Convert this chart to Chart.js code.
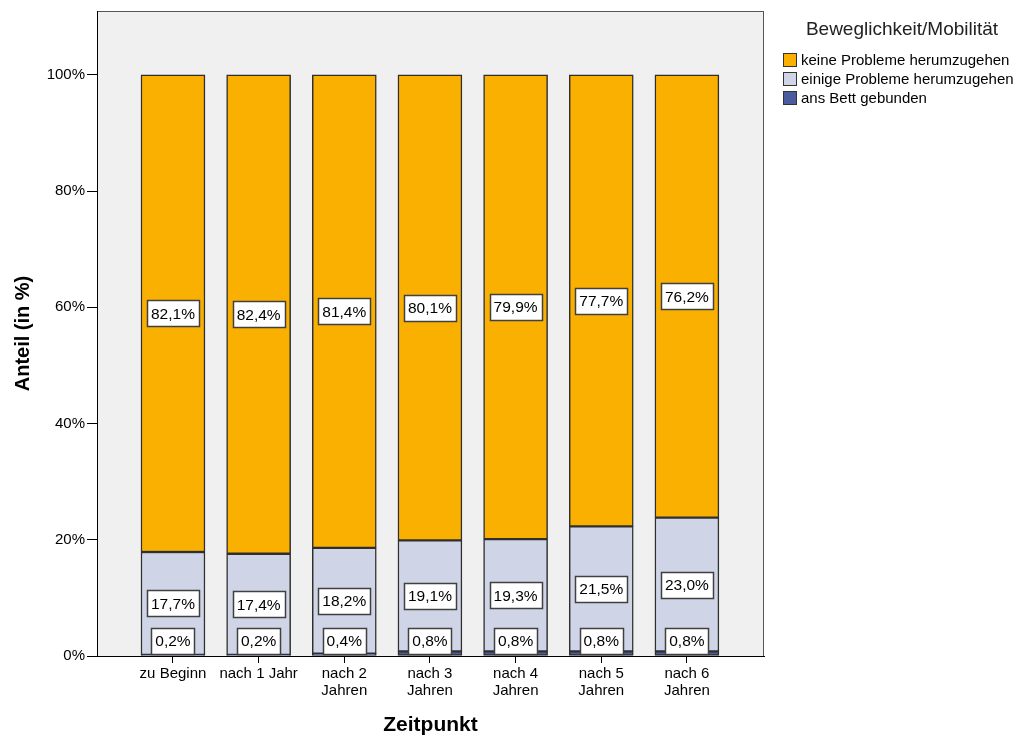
<!DOCTYPE html>
<html>
<head>
<meta charset="utf-8">
<title>Beweglichkeit/Mobilität</title>
<script src="https://cdn.jsdelivr.net/npm/chart.js@4.4.1/dist/chart.umd.min.js"></script>
<style>
  html, body { margin: 0; padding: 0; background: #fff; }
  #wrap { width: 1023px; height: 738px; }
</style>
</head>
<body>
<div id="wrap"><canvas id="mobChart" width="1023" height="738"></canvas></div>
<script>
// Zeitpunkte und Anteile (in %)
const zeitpunkte = ['zu Beginn', 'nach 1 Jahr', ['nach 2', 'Jahren'], ['nach 3', 'Jahren'],
                    ['nach 4', 'Jahren'], ['nach 5', 'Jahren'], ['nach 6', 'Jahren']];
const ansBett = [0.2, 0.2, 0.4, 0.8, 0.8, 0.8, 0.8];
const einigeProbleme = [17.7, 17.4, 18.2, 19.1, 19.3, 21.5, 23.0];
const keineProbleme = [82.1, 82.4, 81.4, 80.1, 79.9, 77.7, 76.2];
const yTicks = [0, 20, 40, 60, 80, 100];
const legendTitle = 'Beweglichkeit/Mobilität';

const FONT = '"Liberation Sans", Arial, sans-serif';

function pct(v){
  return v.toFixed(1).replace('.', ',') + '%';
}
function toPoints(arr){
  return arr.map((v, i) => ({ x: i, y: v }));
}

// grey plot background with a frame
const plotFrame = {
  id: 'plotFrame',
  beforeDraw(chart){
    const a = chart.chartArea, c = chart.ctx;
    c.save();
    c.fillStyle = '#f0f0f0';
    c.fillRect(a.left, a.top, a.right - a.left, a.bottom - a.top);
    c.strokeStyle = '#555';
    c.lineWidth = 1;
    c.strokeRect(a.left + 0.5, a.top + 0.5, a.right - a.left - 1, a.bottom - a.top);
    c.restore();
  }
};

// boxed value labels in the middle of each segment
const boxLabels = {
  id: 'boxLabels',
  afterDatasetsDraw(chart){
    const c = chart.ctx;
    const base = chart.scales.y.getPixelForValue(0);
    c.save();
    c.font = '15.5px ' + FONT;
    c.textAlign = 'center';
    c.textBaseline = 'middle';
    chart.data.datasets.forEach((ds, di) => {
      const meta = chart.getDatasetMeta(di);
      meta.data.forEach((bar, i) => {
        const txt = pct(ds.data[i].y);
        const w = Math.round(c.measureText(txt).width + 8);
        const h = 26;
        let cy = (bar.y + bar.base) / 2;
        cy = Math.min(cy, base - h / 2 - 2);
        const x0 = Math.round(bar.x - w / 2) + 0.5, y0 = Math.round(cy - h / 2) + 0.5;
        c.fillStyle = '#fff';
        c.fillRect(x0, y0, w, h);
        c.strokeStyle = '#404040';
        c.lineWidth = 1.5;
        c.strokeRect(x0, y0, w, h);
        c.fillStyle = '#000';
        c.fillText(txt, bar.x, cy + 1);
      });
    });
    c.restore();
  }
};

// legend on the right
const sideLegend = {
  id: 'sideLegend',
  afterDraw(chart){
    const c = chart.ctx;
    c.save();
    c.fillStyle = '#222';
    c.font = '19px ' + FONT;
    c.textAlign = 'center';
    c.textBaseline = 'middle';
    c.fillText(legendTitle, 902, 30);
    c.font = '15px ' + FONT;
    c.textAlign = 'left';
    const items = chart.data.datasets.slice().reverse();
    items.forEach((ds, k) => {
      const cy = 60 + k * 19;
      c.fillStyle = ds.backgroundColor;
      c.fillRect(783, cy - 7, 14, 14);
      c.strokeStyle = '#333';
      c.lineWidth = 1;
      c.strokeRect(783.5, cy - 6.5, 13, 13);
      c.fillStyle = '#000';
      c.fillText(ds.label, 801, cy + 1);
    });
    c.restore();
  }
};

const barStyle = { borderColor: '#2f2f2f', borderWidth: 1.5, barThickness: 64, borderSkipped: false };

new Chart(document.getElementById('mobChart'), {
  type: 'bar',
  data: {
    datasets: [
      Object.assign({ label: 'ans Bett gebunden', data: toPoints(ansBett), backgroundColor: '#4b5c9e' }, barStyle),
      Object.assign({ label: 'einige Probleme herumzugehen', data: toPoints(einigeProbleme), backgroundColor: '#cfd5e6' }, barStyle),
      Object.assign({ label: 'keine Probleme herumzugehen', data: toPoints(keineProbleme), backgroundColor: '#f9b000' }, barStyle)
    ]
  },
  options: {
    responsive: false,
    devicePixelRatio: 1,
    animation: false,
    layout: { padding: { left: 0, top: 10, right: 259, bottom: 0 } },
    plugins: { legend: { display: false }, tooltip: { enabled: false } },
    scales: {
      x: {
        type: 'linear',
        stacked: true,
        offset: false,
        min: -0.887,
        max: 6.9,
        afterBuildTicks: s => { s.ticks = zeitpunkte.map((_, i) => ({ value: i })); },
        afterFit: s => { s.height = 738 - 656; },
        grid: { display: true, offset: false, drawOnChartArea: false, drawTicks: true, tickLength: 7, color: '#000' },
        border: { display: true, color: '#000', width: 1 },
        ticks: {
          color: '#000',
          padding: 3,
          maxRotation: 0,
          autoSkip: false,
          font: { family: FONT, size: 15, lineHeight: 1.1 },
          callback: v => zeitpunkte[v]
        },
        title: {
          display: true,
          text: 'Zeitpunkt',
          color: '#000',
          font: { family: FONT, size: 21, weight: 'bold' },
          padding: { top: 0, bottom: 0 }
        }
      },
      y: {
        stacked: true,
        min: 0,
        max: 111,
        afterBuildTicks: s => { s.ticks = yTicks.map(v => ({ value: v })); },
        afterFit: s => { s.width = 97; },
        grid: { display: true, drawOnChartArea: false, drawTicks: true, tickLength: 10, color: '#000' },
        border: { display: true, color: '#000', width: 1 },
        ticks: {
          color: '#000',
          padding: 2,
          font: { family: FONT, size: 15 },
          callback: v => v + '%'
        },
        title: {
          display: true,
          text: 'Anteil (in %)',
          color: '#000',
          font: { family: FONT, size: 20, weight: 'bold' },
          padding: { top: 11, bottom: 0 }
        }
      }
    }
  },
  plugins: [plotFrame, boxLabels, sideLegend]
});
</script>
</body>
</html>
